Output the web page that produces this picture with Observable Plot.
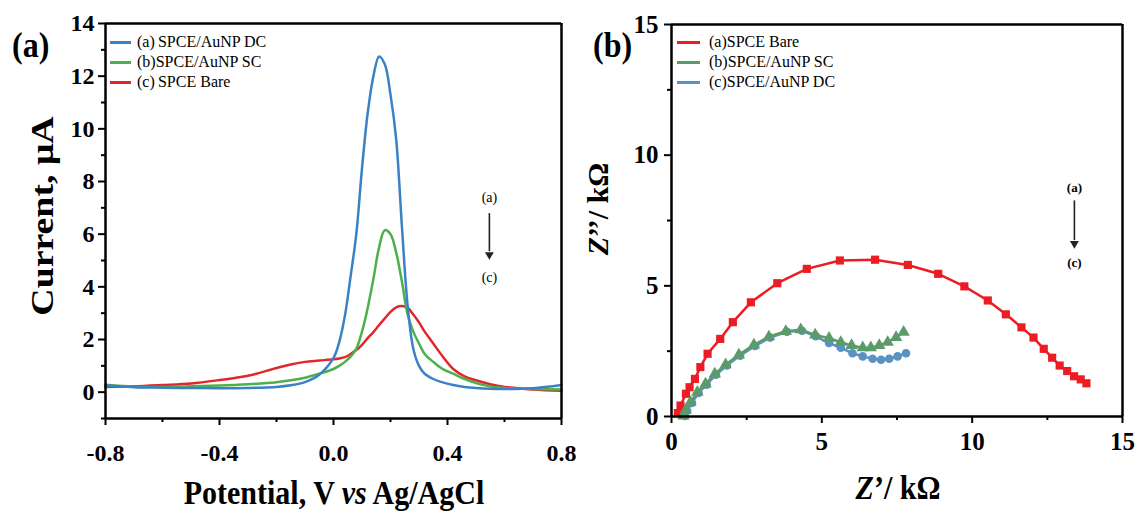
<!DOCTYPE html>
<html>
<head>
<meta charset="utf-8">
<script src="https://cdn.jsdelivr.net/npm/d3@7"></script>
<script src="https://cdn.jsdelivr.net/npm/@observablehq/plot@0.6"></script>
<style>
  body { margin: 0; background: white; }
  #wrap { position: relative; width: 1135px; height: 515px; overflow: hidden; background: white;
          font-family: "Liberation Serif", "Times New Roman", serif; color: black; }
  .abs { position: absolute; white-space: nowrap; }
  .title { font-weight: bold; font-size: 30px; line-height: 34px; }
  .panel { font-weight: bold; font-size: 32px; line-height: 34px; }
  .leg { font-size: 16px; line-height: 18px; }
  .sw { position: absolute; height: 3px; width: 21px; }
</style>
</head>
<body>
<div id="wrap"></div>
<script>
// ---------- Panel (a): DPV ----------
const potential = [-0.8,-0.7,-0.6,-0.5,-0.4,-0.3,-0.2,-0.15,-0.1,-0.05,0,0.02,0.04,0.06,0.08,0.1,0.12,0.14,0.16,0.18,0.2,0.22,0.24,0.26,0.28,0.3,0.32,0.35,0.38,0.42,0.46,0.5,0.55,0.6,0.7,0.8];
const currentDC = [0.25,0.19,0.17,0.16,0.15,0.16,0.2,0.26,0.38,0.66,1.3,1.9,2.9,4.4,6.0,8.5,10.6,12.0,12.75,12.45,11.3,9.6,6.3,3.3,1.65,1.0,0.7,0.5,0.38,0.27,0.2,0.16,0.13,0.12,0.15,0.27];
const currentSC = [0.28,0.21,0.2,0.22,0.25,0.3,0.38,0.45,0.55,0.7,0.88,1.0,1.15,1.35,1.65,2.3,3.2,4.3,5.5,6.15,6.0,5.3,4.2,2.95,2.3,1.85,1.45,1.15,0.9,0.7,0.5,0.35,0.22,0.16,0.12,0.1];
const currentBare = [0.2,0.22,0.27,0.33,0.46,0.62,0.92,1.05,1.15,1.2,1.25,1.28,1.33,1.45,1.6,1.8,2.05,2.28,2.55,2.8,3.05,3.22,3.27,3.2,2.95,2.65,2.3,1.85,1.4,0.88,0.6,0.45,0.3,0.2,0.1,0.05];
const seriesA = ["(a)\u2009SPCE/AuNP DC", "(b)SPCE/AuNP SC", "(c)\u2009SPCE Bare"];
const xDomainA = [-0.8, 0.8];
const yDomainA = [-1, 14];
const xTicksA = [-0.8,-0.4,0,0.4,0.8];
const xMinorA = [-0.6,-0.2,0.2,0.6];
const yTicksA = [0,2,4,6,8,10,12,14];
const yMinorA = [-1,1,3,5,7,9,11,13];

// ---------- Panel (b): Nyquist ----------
const zReBare = [0.21,0.30,0.48,0.60,0.78,0.96,1.20,1.62,2.04,2.64,3.52,4.5,5.6,6.77,7.86,8.87,9.74,10.52,11.12,11.64,12.04,12.38,12.66,12.91,13.16,13.39,13.61,13.8];
const zImBare = [0.13,0.42,0.87,1.12,1.44,1.89,2.40,2.97,3.61,4.37,5.10,5.65,5.97,6.0,5.8,5.46,4.98,4.44,3.91,3.41,3.02,2.59,2.25,1.95,1.74,1.54,1.42,1.27];
const zReSC = [0.4,0.47,0.63,0.86,1.13,1.44,1.8,2.24,2.74,3.24,3.8,4.3,4.78,5.24,5.63,5.99,6.36,6.63,6.91,7.19,7.47,7.72];
const zImSC = [0.02,0.23,0.55,0.93,1.25,1.63,1.98,2.36,2.74,3.05,3.26,3.32,3.12,3.0,2.84,2.72,2.63,2.63,2.72,2.84,3.03,3.23];
const zReDC = [0.45,0.52,0.68,0.9,1.17,1.48,1.84,2.28,2.78,3.28,3.84,4.34,4.8,5.24,5.63,6.02,6.36,6.69,6.97,7.24,7.52,7.8];
const zImDC = [0.02,0.22,0.52,0.9,1.22,1.6,1.95,2.33,2.7,3.02,3.24,3.28,3.07,2.81,2.63,2.42,2.3,2.21,2.17,2.21,2.3,2.42];
const seriesB = ["(a)SPCE Bare", "(b)SPCE/AuNP SC", "(c)SPCE/AuNP DC"];
const domainB = [0, 15];
const ticksB = [0,5,10,15];
const minorB = [2.5,7.5,12.5];

// annotation anchors (data units)
const annotA = {x: 0.547, top: 7.38, from: 6.8, to: 5.35, head: 5.22, bottom: 4.37};
const annotB = {x: 13.4, top: 8.76, from: 8.27, to: 6.75, head: 6.62, bottom: 5.89};

const FONT = '"Liberation Serif", "Times New Roman", serif';
const colA = {DC: "#3b82c4", SC: "#4cb04b", Bare: "#e2272c"};
const colB = {Bare: "#ec1c24", SC: "#5a9b69", DC: "#5a92c3"};

const dataA = [
  ...potential.map((v, i) => ({v, c: currentDC[i], s: "DC"})),
  ...potential.map((v, i) => ({v, c: currentSC[i], s: "SC"})),
  ...potential.map((v, i) => ({v, c: currentBare[i], s: "Bare"}))
];
const bare = zReBare.map((x, i) => ({x, y: zImBare[i]}));
const sc = zReSC.map((x, i) => ({x, y: zImSC[i]}));
const dc = zReDC.map((x, i) => ({x, y: zImDC[i]}));

const wrap = document.getElementById("wrap");

const plotA = Plot.plot({
  width: 567, height: 515,
  marginLeft: 105, marginRight: 6, marginTop: 23, marginBottom: 97,
  x: {domain: xDomainA},
  y: {domain: yDomainA},
  style: {fontFamily: FONT, fontSize: "24px", fontWeight: "bold", background: "transparent", overflow: "visible"},
  marks: [
    Plot.line(dataA.filter(d => d.s === "Bare"), {x: "v", y: "c", stroke: colA.Bare, strokeWidth: 2.5, curve: "catmull-rom"}),
    Plot.line(dataA.filter(d => d.s === "SC"), {x: "v", y: "c", stroke: colA.SC, strokeWidth: 2.5, curve: "catmull-rom"}),
    Plot.line(dataA.filter(d => d.s === "DC"), {x: "v", y: "c", stroke: colA.DC, strokeWidth: 2.5, curve: "catmull-rom"}),
    Plot.axisX({ticks: xTicksA, tickSize: 7, tickPadding: 18, strokeWidth: 2, tickFormat: d => d.toFixed(1), label: null}),
    Plot.axisX({ticks: xMinorA, tickSize: 4, strokeWidth: 2, tickFormat: () => "", label: null}),
    Plot.axisY({ticks: yTicksA, tickSize: 7, tickPadding: 4, strokeWidth: 2, tickFormat: d => String(d), label: null}),
    Plot.axisY({ticks: yMinorA, tickSize: 4, strokeWidth: 2, tickFormat: () => "", label: null}),
    Plot.ruleX(xDomainA, {stroke: "black", strokeWidth: 2.5}),
    Plot.ruleY(yDomainA, {stroke: "black", strokeWidth: 2.5}),
    Plot.text([annotA], {x: "x", y: "top", text: () => "(a)", fontSize: 14, fontWeight: "normal"}),
    Plot.text([annotA], {x: "x", y: "bottom", text: () => "(c)", fontSize: 14, fontWeight: "normal"}),
    Plot.link([annotA], {x1: "x", x2: "x", y1: "from", y2: "to", stroke: "#222", strokeWidth: 1.6}),
    Plot.dot([annotA], {x: "x", y: "head", symbol: "triangle", r: 3.3, fill: "#222", rotate: 180})
  ]
});
plotA.style.position = "absolute";
plotA.style.left = "0px";
plotA.style.top = "0px";
wrap.appendChild(plotA);

const plotB = Plot.plot({
  width: 568, height: 515,
  marginLeft: 104, marginRight: 13, marginTop: 24, marginBottom: 99,
  x: {domain: domainB},
  y: {domain: domainB},
  style: {fontFamily: FONT, fontSize: "25px", fontWeight: "bold", background: "transparent", overflow: "visible"},
  marks: [
    Plot.line(bare, {x: "x", y: "y", stroke: colB.Bare, strokeWidth: 2.5}),
    Plot.dot(bare, {x: "x", y: "y", symbol: "square", r: 4.6, fill: colB.Bare}),
    Plot.line(dc, {x: "x", y: "y", stroke: colB.DC, strokeWidth: 2.5}),
    Plot.dot(dc, {x: "x", y: "y", symbol: "circle", r: 4.3, fill: colB.DC}),
    Plot.line(sc, {x: "x", y: "y", stroke: colB.SC, strokeWidth: 2.5}),
    Plot.dot(sc, {x: "x", y: "y", symbol: "triangle", r: 4.6, fill: colB.SC}),
    Plot.axisX({ticks: ticksB, tickSize: 7, tickPadding: 9, strokeWidth: 2, tickFormat: d => String(d), label: null}),
    Plot.axisX({ticks: minorB, tickSize: 4, strokeWidth: 2, tickFormat: () => "", label: null}),
    Plot.axisY({ticks: ticksB, tickSize: 7, tickPadding: 6, strokeWidth: 2, tickFormat: d => String(d), label: null}),
    Plot.axisY({ticks: minorB, tickSize: 4, strokeWidth: 2, tickFormat: () => "", label: null}),
    Plot.ruleX(domainB, {stroke: "black", strokeWidth: 2.5}),
    Plot.ruleY(domainB, {stroke: "black", strokeWidth: 2.5}),
    Plot.text([annotB], {x: "x", y: "top", text: () => "(a)", fontSize: 13, fontWeight: "bold"}),
    Plot.text([annotB], {x: "x", y: "bottom", text: () => "(c)", fontSize: 13, fontWeight: "bold"}),
    Plot.link([annotB], {x1: "x", x2: "x", y1: "from", y2: "to", stroke: "#222", strokeWidth: 1.6}),
    Plot.dot([annotB], {x: "x", y: "head", symbol: "triangle", r: 3.3, fill: "#222", rotate: 180})
  ]
});
plotB.style.position = "absolute";
plotB.style.left = "567px";
plotB.style.top = "0px";
wrap.appendChild(plotB);

// ---------- HTML overlays: titles, panel letters, legends ----------
function addDiv(cls, html, css) {
  const d = document.createElement("div");
  d.className = "abs " + cls;
  d.innerHTML = html;
  Object.assign(d.style, css);
  wrap.appendChild(d);
  return d;
}
addDiv("panel", "(a)", {left: "12px", top: "28px", transform: "scaleY(1.1)"});
addDiv("panel", "(b)", {left: "593px", top: "28px", transform: "scaleY(1.1)"});

addDiv("title", "Potential, V <i>vs</i> Ag/AgCl", {left: "0px", width: "668px", textAlign: "center", top: "476px", transform: "scaleY(1.12)"});
addDiv("title", "Current, μA", {left: "43px", top: "216px", fontSize: "31px", transform: "translate(-50%,-50%) rotate(-90deg) scaleX(1.22)"});
addDiv("title", "<i>Z</i>’/ kΩ", {left: "898px", top: "488px", transform: "translate(-50%,-50%) scaleY(1.1)"});
addDiv("title", "<i>Z</i>’’/ kΩ", {left: "598px", top: "209px", transform: "translate(-50%,-50%) rotate(-90deg)"});

const legA = [colA.DC, colA.SC, colA.Bare];
seriesA.forEach((t, i) => {
  const y = 42 + i * 20;
  const s = document.createElement("div");
  s.className = "sw";
  Object.assign(s.style, {left: "110px", top: (y - 1.5) + "px", background: legA[i]});
  wrap.appendChild(s);
  addDiv("leg", t, {left: "137px", top: (y - 9) + "px"});
});
const legB = [colB.Bare, colB.SC, colB.DC];
seriesB.forEach((t, i) => {
  const y = 42 + i * 20;
  const s = document.createElement("div");
  s.className = "sw";
  Object.assign(s.style, {left: "677px", top: (y - 1.5) + "px", background: legB[i], width: "23px"});
  wrap.appendChild(s);
  addDiv("leg", t, {left: "709px", top: (y - 9) + "px"});
});
</script>
</body>
</html>
